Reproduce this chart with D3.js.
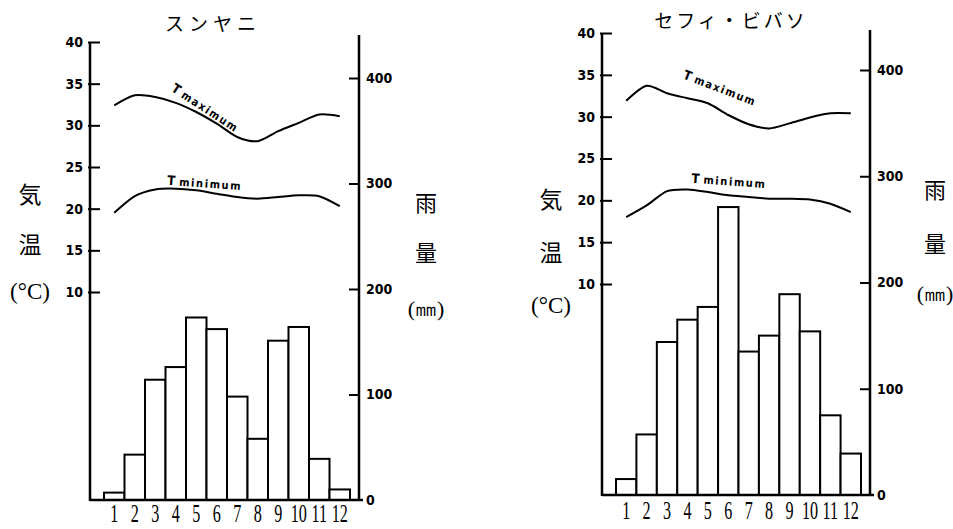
<!DOCTYPE html>
<html><head><meta charset="utf-8">
<script src="https://cdn.jsdelivr.net/npm/d3@7"></script>
<style>
html,body{margin:0;padding:0;background:#fff;}
svg{display:block;}
</style></head>
<body>
<svg id="chart" width="953" height="529"></svg>
<script>
// ---- data ----
const months = ["1","2","3","4","5","6","7","8","9","10","11","12"];
const tempTicks = [10,15,20,25,30,35,40];
const rainTicks = [0,100,200,300,400];
const titles = ["スンヤニ","セフィ・ビバソ"];

const sunyaniRain = [7,43,114,126,173,162,98,58,151,164,39,10];
const sunyaniTmax = [32.4,33.6,33.4,32.7,31.6,30.2,28.6,28.1,29.3,30.3,31.3,31.1];
const sunyaniTmin = [19.5,21.5,22.3,22.4,22.2,21.8,21.4,21.2,21.4,21.6,21.5,20.3];

const sefwiRain = [15,57,144,165,177,271,135,150,189,154,75,39];
const sefwiTmax = [31.9,33.7,32.8,32.2,31.6,30.2,29.1,28.6,29.2,29.9,30.4,30.4];
const sefwiTmin = [18.0,19.4,21.1,21.3,21.0,20.6,20.4,20.2,20.2,20.1,19.6,18.6];

const svg = d3.select("#chart");
const tickFont = "'DejaVu Sans Condensed','DejaVu Sans',sans-serif";
const cjk = "'Noto Sans CJK JP','Noto Sans CJK SC',sans-serif";
const serif = "'Liberation Serif','DejaVu Serif',serif";

function panel(o) {
  const g = svg.append("g");
  const x = d3.scaleBand().domain(months).range([o.left + 14, o.right - 9]).paddingInner(0).paddingOuter(0);
  const yT = d3.scaleLinear().domain([10, 40]).range([o.t10, o.t40]);
  const yR = d3.scaleLinear().domain([0, 400]).range([o.base, o.r400]);

  // bars
  g.selectAll("rect.bar").data(o.rain).enter().append("rect")
    .attr("class","bar")
    .attr("x", (d,i) => x(months[i]))
    .attr("y", d => yR(d))
    .attr("width", x.bandwidth())
    .attr("height", d => yR(0) - yR(d))
    .attr("fill", "#fff").attr("stroke", "#000").attr("stroke-width", 2);

  // axis lines
  g.append("line").attr("x1", o.left).attr("x2", o.left).attr("y1", yT(40)).attr("y2", o.base + 1)
    .attr("stroke","#000").attr("stroke-width",2.5);
  g.append("line").attr("x1", o.right).attr("x2", o.right).attr("y1", o.rTop).attr("y2", o.base + 1)
    .attr("stroke","#000").attr("stroke-width",2.5);
  g.append("line").attr("x1", o.left).attr("x2", o.right + 4).attr("y1", o.base).attr("y2", o.base)
    .attr("stroke","#000").attr("stroke-width",2.5);

  // temp axis
  const aL = g.append("g").attr("transform", `translate(${o.left},0)`)
    .call(d3.axisLeft(yT).tickValues(tempTicks).tickSize(-10).tickPadding(7).tickSizeOuter(0));
  aL.select(".domain").remove();
  aL.selectAll("line").attr("stroke","#000").attr("stroke-width",2).attr("x1",-2);
  aL.selectAll("text").attr("font-family", tickFont).attr("font-weight","bold").attr("font-size",14).attr("fill","#000");

  const aR = g.append("g").attr("transform", `translate(${o.right},0)`)
    .call(d3.axisRight(yR).tickValues(rainTicks).tickSize(-10).tickPadding(7).tickSizeOuter(0));
  aR.select(".domain").remove();
  aR.selectAll("line").attr("stroke","#000").attr("stroke-width",2);
  aR.selectAll(".tick").filter(d => d === 0).select("line").remove();
  aR.selectAll("text").attr("font-family", tickFont).attr("font-weight","bold").attr("font-size",14).attr("fill","#000");

  // month labels
  g.selectAll("text.m").data(months).enter().append("text")
    .attr("class","m")
    .attr("transform", d => `translate(${x(d) + x.bandwidth()/2},${o.mBase}) scale(0.62,1)`)
    .attr("text-anchor","middle")
    .attr("font-family", serif).attr("font-size", 26).attr("fill","#000")
    .text(d => d);

  // temperature lines
  const cx = (d,i) => x(months[i]) + x.bandwidth()/2;
  const line = d3.line().x(cx).y(d => yT(d)).curve(d3.curveCardinal.tension(0.2));
  g.append("path").attr("d", line(o.tmax)).attr("fill","none").attr("stroke","#000").attr("stroke-width",2);
  g.append("path").attr("d", line(o.tmin)).attr("fill","none").attr("stroke","#000").attr("stroke-width",2);

  // line labels
  o.labels(g, x, yT);

  // title
  g.append("text").attr("x", o.titleX).attr("y", o.titleY).attr("text-anchor","middle")
    .attr("font-family", cjk).attr("font-size", 19).attr("letter-spacing", o.titleLS).attr("fill","#000")
    .text(o.title);

  // axis titles
  const side = (txt, cx_, cy, fs, fam) => g.append("text").attr("x", cx_).attr("y", cy)
    .attr("text-anchor","middle").attr("dominant-baseline","central")
    .attr("font-family", fam).attr("font-size", fs).attr("fill","#000").text(txt);
  side("気", o.lx, o.ly[0], 23, cjk);
  side("温", o.lx, o.ly[1], 23, cjk);
  side("(°C)", o.lx, o.ly[2], 23, serif);
  side("雨", o.rx, o.ry[0], 22, cjk);
  side("量", o.rx, o.ry[1], 22, cjk);
  side("(㎜)", o.rx, o.ry[2], 22, serif);
}

function label(g, px, py, rot, t, rest) {
  const tx = g.append("text").attr("transform", `translate(${px},${py}) rotate(${rot})`)
    .attr("font-family", tickFont).attr("font-weight","bold").attr("fill","#000");
  tx.append("tspan").attr("font-size", 13).text(t);
  tx.append("tspan").attr("font-size", 11).attr("dx", 4).attr("letter-spacing", 1.6).text(rest);
}

panel({
  left: 90, right: 359, base: 500, t10: 292, t40: 42, r400: 78, rTop: 35, mBase: 522,
  rain: sunyaniRain, tmax: sunyaniTmax, tmin: sunyaniTmin,
  title: titles[0], titleX: 213, titleY: 31, titleLS: 5,
  lx: 30, ly: [193, 243, 291], rx: 426, ry: [201, 251, 308],
  labels: (g, x, yT) => {
    label(g, x("4") + 5, yT(34.3) + 1, 33, "T", "maximum");
    label(g, x("3") + 22, yT(22.5) - 3, 4, "T", "minimum");
  }
});
panel({
  left: 602, right: 870, base: 495, t10: 284, t40: 33, r400: 70, rTop: 30, mBase: 519,
  rain: sefwiRain, tmax: sefwiTmax, tmin: sefwiTmin,
  title: titles[1], titleX: 731, titleY: 28, titleLS: 3,
  lx: 551, ly: [198, 251, 305], rx: 935, ry: [188, 242, 293],
  labels: (g, x, yT) => {
    label(g, x("4") + 5, yT(34.6), 21, "T", "maximum");
    label(g, x("4") + 14, yT(22.1), 4, "T", "minimum");
  }
});
</script>
</body></html>
